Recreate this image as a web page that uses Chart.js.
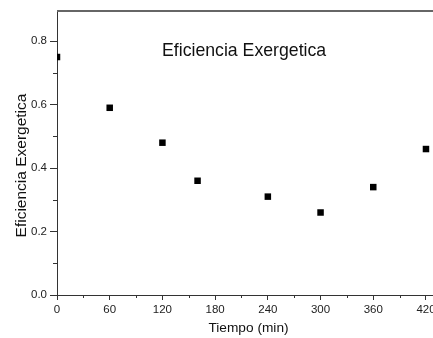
<!DOCTYPE html>
<html>
<head>
<meta charset="utf-8">
<script src="https://cdn.jsdelivr.net/npm/chart.js@4"></script>
<style>
  body { margin: 0; background: #fff; overflow: hidden; }
</style>
</head>
<body>
<canvas id="grafico" width="433" height="338"></canvas>
<script>
// datos
const tiempo = [0, 60, 120, 160, 240, 300, 360, 420];
const eficiencia = [0.75, 0.59, 0.48, 0.36, 0.31, 0.26, 0.34, 0.46];

const xTicks = [0, 60, 120, 180, 240, 300, 360, 420];
const xMinor = [30, 90, 150, 210, 270, 330, 390];
const yTicks = [0, 0.2, 0.4, 0.6, 0.8];
const yMinor = [0.1, 0.3, 0.5, 0.7];

const titulo = "Eficiencia Exergetica";
const xTitulo = "Tiempo (min)";
const yTitulo = "Eficiencia Exergetica";

const fuente = "'Liberation Sans', Arial, sans-serif";

const extras = {
  id: "extras",
  afterDraw(chart) {
    const ctx = chart.ctx;
    const area = chart.chartArea;
    const x = chart.scales.x;
    const y = chart.scales.y;
    ctx.save();
    // linea superior
    ctx.strokeStyle = "#666";
    ctx.lineWidth = 2;
    ctx.beginPath();
    ctx.moveTo(area.left, area.top);
    ctx.lineTo(area.right, area.top);
    ctx.stroke();
    // ticks menores
    ctx.strokeStyle = "#333";
    ctx.lineWidth = 1;
    ctx.beginPath();
    xMinor.forEach(v => {
      const px = Math.round(x.getPixelForValue(v)) + 0.5;
      ctx.moveTo(px, area.bottom);
      ctx.lineTo(px, area.bottom + 3);
    });
    yMinor.forEach(v => {
      const py = Math.round(y.getPixelForValue(v)) + 0.5;
      ctx.moveTo(area.left, py);
      ctx.lineTo(area.left - 4, py);
    });
    ctx.stroke();
    // textos
    ctx.fillStyle = "#111";
    ctx.font = "17.7px " + fuente;
    ctx.textAlign = "left";
    ctx.textBaseline = "alphabetic";
    ctx.fillText(titulo, 162, 56);
    ctx.font = "13.7px " + fuente;
    ctx.textAlign = "center";
    ctx.fillText(xTitulo, 248.5, 332);
    ctx.translate(22, 165.5);
    ctx.rotate(-Math.PI / 2);
    ctx.font = "15.5px " + fuente;
    ctx.textBaseline = "middle";
    ctx.fillText(yTitulo, 0, 0);
    ctx.restore();
  }
};

new Chart(document.getElementById("grafico").getContext("2d"), {
  type: "scatter",
  data: {
    datasets: [
      {
        label: "Eficiencia",
        data: tiempo.map((t, i) => ({ x: t, y: eficiencia[i] })),
        pointStyle: "rect",
        pointRadius: 4.6,
        pointHoverRadius: 4.6,
        backgroundColor: "#000",
        borderColor: "#000",
        borderWidth: 0,
        clip: 0,
      },
    ],
  },
  options: {
    responsive: false,
    animation: false,
    events: [],
    layout: { autoPadding: false, padding: { top: 11, right: 0, left: 0, bottom: 0 } },
    plugins: { legend: { display: false }, tooltip: { enabled: false } },
    scales: {
      x: {
        type: "linear",
        min: 0,
        max: 428,
        afterBuildTicks: s => { s.ticks = xTicks.map(v => ({ value: v })); },
        afterFit: s => { s.height = 43; s.paddingLeft = 0; s.paddingRight = 0; },
        border: { color: "#333", width: 1 },
        grid: { drawOnChartArea: false, tickLength: 5, tickColor: "#333" },
        ticks: {
          color: "#222",
          padding: 3,
          maxRotation: 0,
          font: { family: fuente, size: 11.5 },
        },
      },
      y: {
        min: 0,
        max: 0.895,
        afterBuildTicks: s => { s.ticks = yTicks.map(v => ({ value: v })); },
        afterFit: s => { s.width = 57; s.paddingTop = 0; s.paddingBottom = 0; },
        border: { color: "#333", width: 1 },
        grid: { drawOnChartArea: false, tickLength: 7, tickColor: "#333" },
        ticks: {
          color: "#222",
          padding: 3,
          font: { family: fuente, size: 11.5 },
          callback: v => v.toFixed(1),
        },
      },
    },
  },
  plugins: [extras],
});
</script>
</body>
</html>
